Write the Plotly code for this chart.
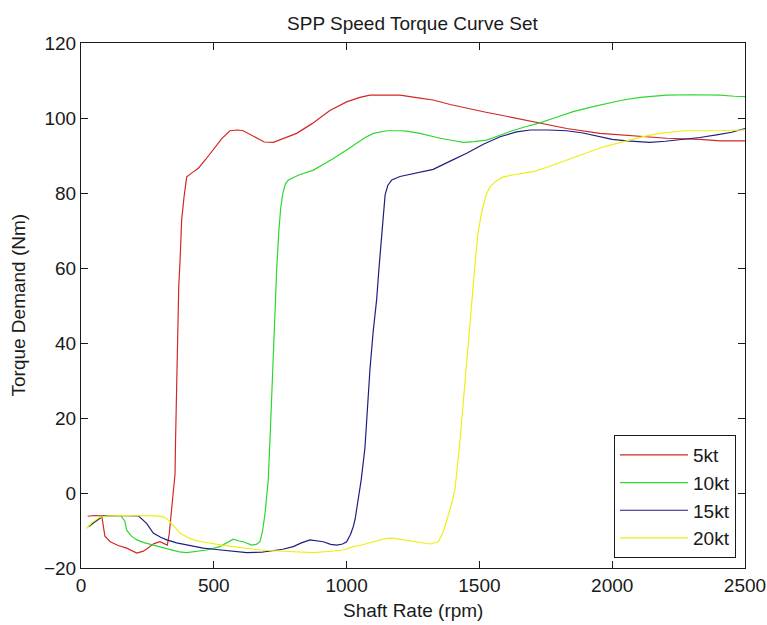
import plotly.graph_objects as go

# Shaft rate (rpm) / torque demand (Nm) pairs for each ship speed
rpm_5kt = [25, 50, 78, 90, 110, 140, 172, 210, 235, 250, 275, 297, 315, 325, 332, 338, 344,
           348, 354, 356, 358, 362, 368, 373, 379, 388, 398, 420, 442, 470, 498, 530, 561,
           590, 611, 640, 661, 690, 724, 770, 812, 870, 937, 1000, 1050, 1088, 1150, 1201,
           1276, 1326, 1390, 1452, 1520, 1578, 1650, 1728, 1829, 1954, 2080, 2205, 2331,
           2406, 2500]
torque_5kt = [-6.2, -6.0, -6.1, -11.5, -13.0, -14.0, -14.7, -16.0, -15.5, -14.7, -13.5, -13.0,
              -13.5, -13.9, -11.0, -6.0, -1.0, 1.0, 5.0, 14.0, 20.0, 40.0, 55.0, 62.0, 72.8,
              79.0, 84.3, 85.5, 86.6, 89.0, 91.5, 94.5, 96.6, 96.8, 96.6, 95.5, 94.6, 93.6,
              93.5, 94.7, 95.9, 98.5, 102.0, 104.3, 105.5, 106.1, 106.2, 106.1, 105.3, 104.8,
              103.6, 102.6, 101.6, 100.8, 99.8, 98.7, 97.2, 95.9, 95.2, 94.6, 94.3, 93.9, 93.9]

rpm_10kt = [30, 55, 84, 120, 150, 165, 172, 190, 210, 240, 272, 300, 335, 370, 398, 440, 473,
            523, 550, 573, 595, 611, 643, 660, 674, 684, 693, 700, 705, 712, 720, 728, 737,
            745, 752, 760, 770, 781, 820, 875, 910, 950, 1000, 1038, 1070, 1101, 1151, 1201,
            1226, 1276, 1352, 1400, 1440, 1480, 1527, 1570, 1615, 1670, 1728, 1790, 1853,
            1920, 1979, 2040, 2105, 2205, 2300, 2406, 2460, 2500]
torque_10kt = [-9.0, -7.5, -6.1, -6.0, -6.0, -7.5, -9.9, -11.5, -12.5, -13.3, -13.9, -14.5,
               -15.2, -15.7, -15.9, -15.6, -15.2, -14.3, -13.3, -12.3, -12.8, -13.0, -13.9,
               -13.7, -13.0, -10.0, -5.4, -1.0, 3.5, 15.0, 30.0, 45.0, 60.0, 70.0, 76.0, 80.0,
               82.5, 83.5, 84.8, 86.1, 87.5, 89.2, 91.5, 93.2, 94.8, 95.9, 96.6, 96.6, 96.5,
               95.9, 94.6, 94.0, 93.5, 93.7, 94.1, 95.2, 96.4, 97.6, 98.7, 100.2, 101.7, 102.9,
               103.9, 104.8, 105.5, 106.1, 106.2, 106.1, 105.8, 105.7]

rpm_15kt = [27, 50, 84, 130, 180, 216, 247, 272, 300, 323, 360, 398, 460, 500, 549, 590, 624,
            680, 724, 760, 799, 830, 862, 890, 912, 940, 963, 985, 1000, 1015, 1025, 1032,
            1044, 1055, 1069, 1078, 1088, 1100, 1113, 1122, 1132, 1138, 1145, 1155, 1170,
            1201, 1240, 1276, 1326, 1390, 1452, 1515, 1578, 1640, 1691, 1760, 1829, 1890,
            1954, 2000, 2054, 2100, 2142, 2200, 2268, 2330, 2393, 2450, 2500]
torque_15kt = [-9.0, -7.8, -6.1, -6.0, -6.0, -6.1, -8.1, -10.7, -11.8, -12.5, -13.3, -13.9,
               -14.7, -15.0, -15.4, -15.8, -15.9, -15.8, -15.4, -15.0, -14.3, -13.3, -12.5,
               -12.7, -13.0, -13.7, -13.9, -13.6, -13.0, -11.0, -9.0, -7.0, -2.0, 3.5, 12.0,
               22.0, 33.0, 43.0, 51.5, 60.0, 69.3, 75.0, 79.5, 82.0, 83.5, 84.4, 85.0, 85.4,
               86.3, 88.5, 90.6, 93.0, 95.0, 96.3, 96.8, 96.8, 96.6, 96.0, 95.0, 94.3, 93.9,
               93.6, 93.5, 93.8, 94.3, 94.8, 95.5, 96.2, 97.2]

rpm_20kt = [20, 40, 70, 100, 150, 200, 250, 285, 305, 323, 345, 373, 400, 423, 455, 486, 530,
            573, 620, 674, 720, 775, 830, 875, 930, 988, 1025, 1050, 1090, 1151, 1180, 1214,
            1260, 1314, 1345, 1360, 1370, 1385, 1396, 1408, 1414, 1420, 1427, 1440, 1459,
            1477, 1486, 1495, 1509, 1525, 1540, 1565, 1590, 1640, 1703, 1760, 1829, 1890,
            1954, 2010, 2067, 2120, 2180, 2268, 2393, 2500]
torque_20kt = [-9.5, -8.0, -6.5, -6.1, -6.0, -6.0, -6.0, -6.1, -6.3, -6.8, -8.5, -10.7, -11.8,
               -12.5, -13.0, -13.4, -13.9, -14.3, -14.8, -15.2, -15.4, -15.6, -15.8, -15.9,
               -15.6, -15.2, -14.3, -14.0, -13.2, -12.1, -12.1, -12.5, -13.1, -13.6, -13.0,
               -11.0, -9.0, -5.5, -2.7, 1.0, 4.3, 9.0, 14.0, 25.0, 41.5, 55.0, 63.0, 69.5,
               75.0, 79.5, 81.7, 83.3, 84.3, 85.0, 85.7, 87.0, 88.8, 90.4, 92.0, 93.1, 94.1,
               95.1, 95.9, 96.6, 96.6, 96.8]

series_names = ["5kt", "10kt", "15kt", "20kt"]
x_ticks = [0, 500, 1000, 1500, 2000, 2500]
y_ticks = [-20, 0, 20, 40, 60, 80, 100, 120]

series = [
    (series_names[0], rpm_5kt, torque_5kt, "#d02828"),
    (series_names[1], rpm_10kt, torque_10kt, "#2fd62f"),
    (series_names[2], rpm_15kt, torque_15kt, "#1e1e80"),
    (series_names[3], rpm_20kt, torque_20kt, "#eeee14"),
]

fig = go.Figure()
for name, xs, ys, color in series:
    fig.add_trace(go.Scatter(x=xs, y=ys, mode="lines", name=name,
                             line=dict(color=color, width=1.2)))

text_font = dict(family="Liberation Sans, Arial, sans-serif", size=19, color="#1a1a1a")

axis_common = dict(
    showline=True, linecolor="#1a1a1a", linewidth=1, mirror="ticks",
    ticks="inside", ticklen=7, tickcolor="#1a1a1a", tickwidth=1,
    showgrid=False, zeroline=False, tickfont=text_font,
)

fig.update_layout(
    width=767, height=625,
    margin=dict(l=81, r=22, t=43, b=57, autoexpand=False),
    paper_bgcolor="white", plot_bgcolor="white",
    font=text_font,
    showlegend=True,
    legend=dict(
        x=(736 - 81) / 664, y=(568 - 558) / 525, xanchor="right", yanchor="bottom",
        bgcolor="white", bordercolor="#1a1a1a", borderwidth=1,
        font=text_font, itemwidth=68, tracegroupgap=0,
    ),
    title=dict(text="SPP Speed Torque Curve Set", font=text_font,
               x=0.5377, xanchor="center", y=1 - 23 / 625, yanchor="middle",
               yref="container", xref="container"),
)

fig.update_xaxes(range=[0, 2500], tickvals=x_ticks, **axis_common)
fig.update_yaxes(range=[-20, 120], tickvals=y_ticks, **axis_common)

# axis titles placed as annotations for exact positioning
fig.add_annotation(text="Shaft Rate (rpm)", xref="paper", yref="paper",
                   x=0.5, y=-(610 - 568) / 525, xanchor="center", yanchor="middle",
                   showarrow=False, font=text_font)
fig.add_annotation(text="Torque Demand (Nm)", xref="paper", yref="paper",
                   x=(18 - 81) / 664, y=0.5, xanchor="center", yanchor="middle",
                   textangle=-90, showarrow=False, font=text_font)

fig.write_html("out.html")
